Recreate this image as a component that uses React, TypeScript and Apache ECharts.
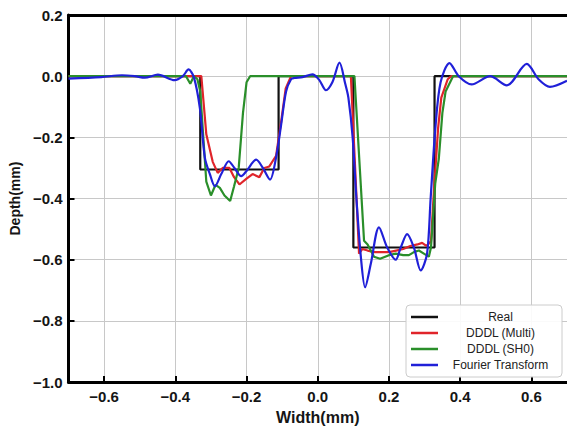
import React, { useEffect, useRef } from "react";
import * as echarts from "echarts";

const seriesNames = ["Real", "DDDL (Multi)", "DDDL (SH0)", "Fourier Transform"];
const seriesColors = ["#111111", "#e0242a", "#2a8f2a", "#2020d8"];

const realX = [-0.7, -0.33, -0.33, -0.11, -0.11, 0.1, 0.1, 0.328, 0.328, 0.7];
const realY = [0, 0, -0.305, -0.305, 0, 0, -0.56, -0.56, 0, 0];

const multiX = [-0.7, -0.34, -0.327, -0.313, -0.295, -0.281, -0.267, -0.248, -0.235, -0.22, -0.2, -0.183, -0.164, -0.15, -0.136, -0.117, -0.103, -0.09, -0.075, 0.093, 0.105, 0.116, 0.125, 0.14, 0.16, 0.18, 0.2, 0.22, 0.24, 0.26, 0.28, 0.293, 0.305, 0.318, 0.325, 0.338, 0.347, 0.365, 0.375, 0.7];
const multiY = [0, 0, 0, -0.19, -0.28, -0.316, -0.3, -0.3, -0.33, -0.354, -0.335, -0.32, -0.33, -0.3, -0.295, -0.26, -0.15, -0.04, 0, 0, -0.3, -0.58, -0.565, -0.57, -0.575, -0.575, -0.575, -0.57, -0.565, -0.555, -0.55, -0.545, -0.555, -0.54, -0.4, -0.17, -0.07, -0.01, 0, 0];

const sh0X = [-0.7, -0.37, -0.358, -0.348, -0.338, -0.33, -0.313, -0.3, -0.287, -0.275, -0.262, -0.246, -0.235, -0.222, -0.21, -0.2, -0.19, 0.103, 0.13, 0.14, 0.158, 0.175, 0.2, 0.219, 0.24, 0.256, 0.27, 0.284, 0.298, 0.312, 0.318, 0.33, 0.34, 0.35, 0.359, 0.38, 0.7];
const sh0Y = [0, 0, -0.025, 0, -0.01, -0.05, -0.345, -0.39, -0.355, -0.365, -0.39, -0.408, -0.36, -0.3, -0.12, -0.02, 0, 0, -0.538, -0.55, -0.59, -0.597, -0.585, -0.58, -0.585, -0.585, -0.575, -0.57, -0.58, -0.59, -0.56, -0.35, -0.27, -0.12, -0.05, 0, 0];

const fourierX = [-0.7, -0.608, -0.55, -0.514, -0.486, -0.449, -0.402, -0.379, -0.363, -0.348, -0.331, -0.317, -0.303, -0.289, -0.271, -0.25, -0.234, -0.215, -0.2, -0.173, -0.154, -0.134, -0.117, -0.103, -0.089, -0.075, -0.066, -0.043, -0.015, 0.004, 0.023, 0.041, 0.061, 0.077, 0.086, 0.098, 0.108, 0.121, 0.133, 0.149, 0.172, 0.195, 0.219, 0.233, 0.251, 0.27, 0.289, 0.307, 0.317, 0.331, 0.345, 0.37, 0.396, 0.432, 0.484, 0.531, 0.587, 0.62, 0.652, 0.7];
const fourierY = [-0.008, -0.003, 0.003, 0, -0.005, 0.005, -0.013, 0, 0.022, -0.003, -0.105, -0.267, -0.32, -0.36, -0.32, -0.278, -0.3, -0.327, -0.31, -0.273, -0.3, -0.338, -0.265, -0.16, -0.05, -0.01, -0.006, -0.003, 0.006, -0.012, -0.046, -0.02, 0.044, -0.024, -0.07, -0.2, -0.39, -0.59, -0.69, -0.613, -0.494, -0.56, -0.6, -0.56, -0.516, -0.56, -0.635, -0.58, -0.4, -0.16, -0.02, 0.043, 0, -0.027, 0, -0.03, 0.04, -0.01, -0.035, -0.015];

const xTickMin = -0.7;
const xTickMax = 0.7;
const yTickMin = -1.0;
const yTickMax = 0.2;
const yTickStep = 0.2;

const zip = (xs: number[], ys: number[]) => xs.map((x, i) => [x, ys[i]]);
const FONT = "'Liberation Sans', Arial, Helvetica, sans-serif";
const fmt = (v: number) => {
  const r = Math.round(v * 10) / 10;
  return (r < 0 ? "\u2212" : "") + Math.abs(r).toFixed(1);
};

export default function App() {
  const ref = useRef<HTMLDivElement>(null);
  useEffect(() => {
    if (!ref.current) return;
    const chart = echarts.init(ref.current, null, { renderer: "svg" });
    const datasets = [zip(realX, realY), zip(multiX, multiY), zip(sh0X, sh0Y), zip(fourierX, fourierY)];
    const labelStyle = { fontFamily: FONT, fontWeight: "bold", fontSize: 15, color: "#151515" };
    chart.setOption({
      animation: false,
      backgroundColor: "#ffffff",
      grid: { left: 68, top: 15, width: 501, height: 370 },
      legend: {
        data: seriesNames,
        orient: "vertical",
        left: 406,
        top: 305,
        padding: [6, 4, 6, 5],
        itemWidth: 27,
        itemHeight: 2.5,
        itemGap: 4,
        itemTextGap: 5,
        icon: "rect",
        backgroundColor: "rgba(255,255,255,0.9)",
        borderColor: "#cccccc",
        borderWidth: 1,
        borderRadius: 4,
        formatter: (n: string) => "{c|" + n + "}",
        textStyle: {
          rich: { c: { width: 115, align: "center", fontFamily: FONT, fontSize: 12, color: "#222", lineHeight: 13 } },
        },
      },
      xAxis: [
        {
          type: "value",
          min: xTickMin,
          max: xTickMax,
          splitNumber: 7,
          name: "Width(mm)",
          nameLocation: "middle",
          nameGap: 25,
          nameTextStyle: { fontFamily: FONT, fontWeight: "bold", fontSize: 16, color: "#151515" },
          axisLine: { show: true, onZero: false, lineStyle: { color: "#000", width: 3 } },
          axisTick: { show: true, inside: true, length: 6, lineStyle: { color: "#000", width: 2 } },
          axisLabel: { ...labelStyle, margin: 7, showMinLabel: false, showMaxLabel: false, formatter: fmt },
          splitLine: { show: true, showMinLine: false, showMaxLine: false, lineStyle: { color: "#c8c8c8", width: 1 } },
        },
        {
          type: "value",
          position: "top",
          min: xTickMin,
          max: xTickMax,
          axisLine: { show: true, onZero: false, lineStyle: { color: "#000", width: 3 } },
          axisTick: { show: false },
          axisLabel: { show: false },
          splitLine: { show: false },
        },
      ],
      yAxis: {
        type: "value",
        min: yTickMin,
        max: yTickMax,
        interval: yTickStep,
        name: "Depth(mm)",
        nameLocation: "middle",
        nameGap: 42,
        nameTextStyle: { fontFamily: FONT, fontWeight: "bold", fontSize: 14, color: "#151515" },
        axisLine: { show: true, onZero: false, lineStyle: { color: "#000", width: 3 } },
        axisTick: { show: true, inside: true, length: 6, lineStyle: { color: "#000", width: 2 } },
        axisLabel: { ...labelStyle, margin: 6, formatter: fmt },
        splitLine: { show: true, showMinLine: false, showMaxLine: false, lineStyle: { color: "#c8c8c8", width: 1 } },
      },
      series: seriesNames.map((name, i) => ({
        name,
        type: "line",
        xAxisIndex: 0,
        data: datasets[i],
        showSymbol: false,
        symbol: "none",
        smooth: i === 3 ? 0.3 : false,
        lineStyle: { color: seriesColors[i], width: 2.2 },
        itemStyle: { color: seriesColors[i] },
        z: 2 + i,
      })),
    });
    return () => chart.dispose();
  }, []);
  return <div ref={ref} style={{ position: "absolute", left: 0, top: 0, width: 567, height: 430 }} />;
}
